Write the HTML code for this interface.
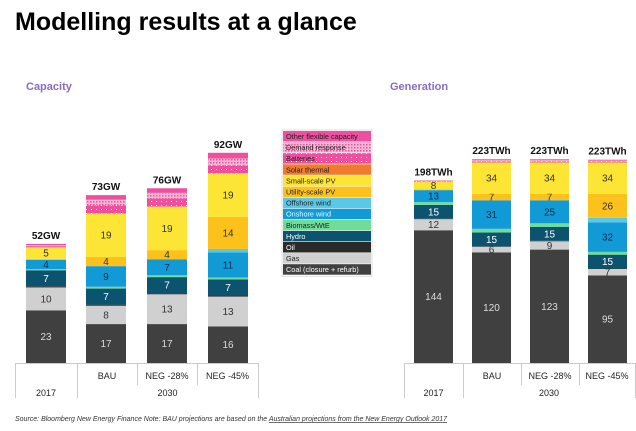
<!DOCTYPE html>
<html><head><meta charset="utf-8">
<style>
body{margin:0;width:636px;height:426px;background:#fff;overflow:hidden;font-family:"Liberation Sans",sans-serif}
svg text{font-family:"Liberation Sans",sans-serif}
</style></head>
<body>
<svg id="chart" width="636" height="426" viewBox="0 0 636 426">
<defs>
<pattern id="dr" width="3" height="3" patternUnits="userSpaceOnUse"><rect width="3" height="3" fill="#f7b8d8"/><rect width="1.5" height="1.5" fill="#e8559f"/></pattern>
<pattern id="bat" width="5" height="4" patternUnits="userSpaceOnUse"><rect width="5" height="4" fill="#ee4f9e"/><rect x="1" y="1" width="1" height="1" fill="#fff"/></pattern>
</defs>
<text x="15" y="30" font-size="25" font-weight="bold" fill="#000">Modelling results at a glance</text>
<text x="26" y="90" font-size="11" font-weight="bold" fill="#8a6cc0">Capacity</text>
<text x="390" y="90" font-size="11" font-weight="bold" fill="#8a6cc0">Generation</text>
<g id="cap"></g>
<g id="gen"></g>
<g id="legend"></g>
<text x="15" y="421" font-size="7" font-style="italic" fill="#333">Source: Bloomberg New Energy Finance  Note: BAU projections are based on the <tspan text-decoration="underline">Australian projections from the New Energy Outlook 2017</tspan></text>
</svg>
<script>
const seriesNames = ["Coal (closure + refurb)","Gas","Oil","Hydro","Biomass/WtE","Onshore wind","Offshore wind","Utility-scale PV","Small-scale PV","Solar thermal","Batteries","Demand response","Other flexible capacity"];
const categories = ["2017","BAU","NEG -28%","NEG -45%"];
const capValues = [
 [23,10,0.5,7,0.5,4,0,0.5,5,0,0.5,0.5,0.5],
 [17,8,0.5,7,0.8,9,0,4,19,0,3.5,2.5,2],
 [17,13,0.5,7,0.8,7,0,4,19,0,3.5,2.5,2],
 [16,13,0.5,7,0.8,11,1.5,14,19,0,3.5,3,2.5]
];
const capTotals = ["52GW","73GW","76GW","92GW"];
const genValues = [
 [144,12,0.5,15,3,13,0,1,8,0,0.5,0.5,0.5],
 [120,6,0.5,15,4,31,0,7,34,0,1,1.5,1],
 [123,9,0.5,15,4,25,0,7,34,0,1,1.5,1],
 [95,7,0.5,15,3,32,5,26,34,0,1,1,1]
];
const genTotals = ["198TWh","223TWh","223TWh","223TWh"];
const colors = ["#404040","#d0d0d0","#2a2a2a","#0b536e","#6fdc9a","#119ad6","#5cc8e8","#fdc11c","#fde535","#f07b2e","url(#bat)","url(#dr)","#ee4f9e"];
const labelColors = ["#ddd","#333","#fff","#fff","#333","#0b3050","#333","#333","#333","#333","#333","#333","#333"];
const NS="http://www.w3.org/2000/svg";
function el(tag,attrs,parent){const e=document.createElementNS(NS,tag);for(const k in attrs)e.setAttribute(k,attrs[k]);parent.appendChild(e);return e;}

function drawChart(g, values, totals, xs, bw, scale, minLabel, base){
  values.forEach((vals,ci)=>{
    let y=base;
    vals.forEach((v,si)=>{
      if(v<=0)return;
      const h=v*scale;
      y-=h;
      const r=el('rect',{x:xs[ci],y:y,width:bw,height:h,fill:colors[si]},g);
      
      
      if(v>=minLabel){
        const t=el('text',{x:xs[ci]+bw/2,y:y+h/2+3.5,'font-size':10,'text-anchor':'middle',fill:labelColors[si]},g);
        t.textContent=v;
        
        
      }
    });
    const tt=el('text',{x:xs[ci]+bw/2,y:y-5,'font-size':10,'font-weight':'bold','text-anchor':'middle',fill:'#111'},g);
    tt.textContent=totals[ci];
    
    
  });
}
function drawAxis(g, lines){
  const [l,d1,d2,d3,r]=lines;
  const c='#ccc';
  el('line',{x1:l,y1:363.5,x2:r,y2:363.5,stroke:c},g);
  [l,d1,r].forEach(x=>el('line',{x1:x+.5,y1:363,x2:x+.5,y2:398,stroke:c},g));
  [d2,d3].forEach(x=>el('line',{x1:x+.5,y1:363,x2:x+.5,y2:385,stroke:c},g));
  const labs=[["BAU",(d1+d2)/2,379],["NEG -28%",(d2+d3)/2,379],["NEG -45%",(d3+r)/2,379],["2017",(l+d1)/2,396],["2030",(d1+r)/2,396]];
  labs.forEach(([s,x,y])=>{const t=el('text',{x:x,y:y,'font-size':9,'text-anchor':'middle',fill:'#222'},g);t.textContent=s;
    
    });
}
const cap=document.getElementById('cap'), gen=document.getElementById('gen');
drawChart(cap,capValues,capTotals,[26,86,147,208],40,2.29,4,363);
drawAxis(cap,[15,77,137,197,258]);
drawChart(gen,genValues,genTotals,[414,472,530,588],39,0.922,6,363);
drawAxis(gen,[404,463,521,579,635]);

const lg=document.getElementById('legend');
const lx=283, ly=131, lw=88, rh=11.1;
el('rect',{x:lx-1,y:ly-1,width:lw+2,height:rh*13+2,fill:'#fff',stroke:'#ddd'},lg);
for(let i=0;i<13;i++){
  const si=12-i;
  const y=ly+i*rh;
  const r=el('rect',{x:lx,y:y,width:lw,height:rh-0.6,fill:colors[si]},lg);
  
  
  const tc=(si===0||si===2||si===3)?'#fff':(si===5?'#e8f6ff':'#222');
  const t=el('text',{x:lx+3,y:y+8,'font-size':7.3,fill:tc},lg);
  t.textContent=seriesNames[si];
  
  
}
</script>
</body></html>
